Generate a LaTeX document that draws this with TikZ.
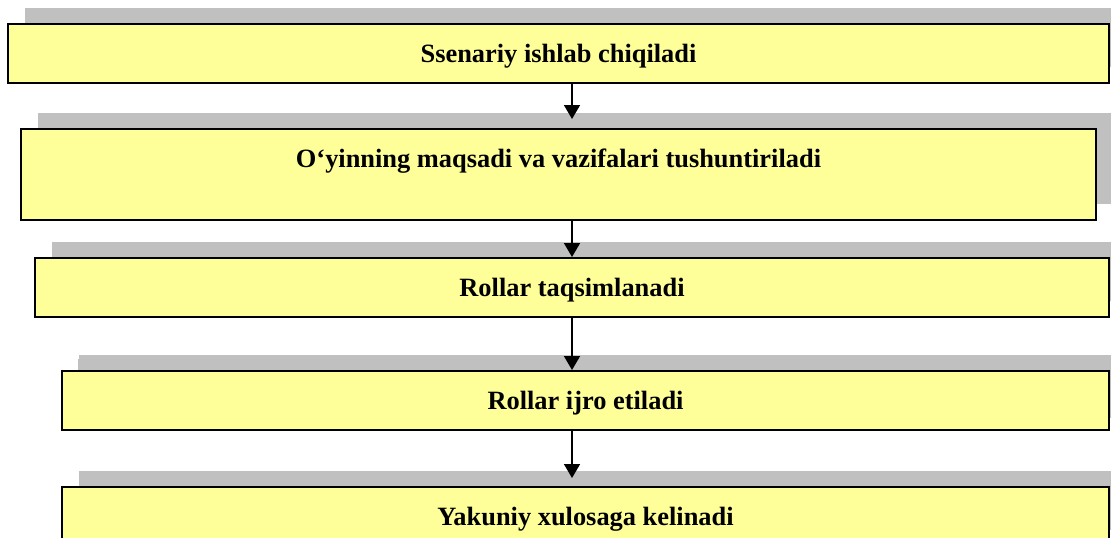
\documentclass[tikz,border=0pt]{standalone}
\usepackage{fontspec}
\setmainfont{Liberation Serif}
\usetikzlibrary{arrows.meta,shadows}

\definecolor{boxyellow}{HTML}{FFFF99}
\definecolor{shadowgray}{HTML}{C0C0C0}

\tikzset{
  stagebox/.style={draw=black, line width=1pt, fill=boxyellow,
    minimum height=29.5pt, text height=11pt, text depth=2pt,
    font=\fontsize{13.2}{15}\selectfont\bfseries,
    general shadow={fill=shadowgray, shadow xshift=8.5pt, shadow yshift=8pt}},
  flow/.style={-{Triangle[width=8pt,length=7pt]}, line width=0.8pt}
}

\begin{document}
\begin{tikzpicture}[x=0.5pt, y=0.5pt]

  \useasboundingbox (0,0) rectangle (1111,537);

  \node[stagebox, minimum width=550.5pt] (s1) at (558.5,483.5) {Ssenariy ishlab chiqiladi};
  \node[stagebox, minimum width=537.5pt, minimum height=45.5pt, text depth=18pt] (s2) at (558.5,362.5) {O‘yinning maqsadi va vazifalari tushuntiriladi};
  \node[stagebox, minimum width=537pt] (s3) at (572,249.5) {Rollar taqsimlanadi};
  \node[stagebox, minimum width=523.5pt, general shadow={fill=shadowgray, shadow xshift=8pt, shadow yshift=6pt}] (s4) at (585.5,136.5) {Rollar ijro etiladi};
  \node[stagebox, minimum width=523.5pt] (s5) at (585.5,20.5) {Yakuniy xulosaga kelinadi};

  \draw[flow, shorten >=4.5pt] (s1.south -| s3) -- (s2.north -| s3);
  \draw[flow] (s2.south -| s3) -- (s3.north);
  \draw[flow] (s3.south) -- (s4.north -| s3);
  \draw[flow, shorten >=4pt] (s4.south -| s3) -- (s5.north -| s3);

\end{tikzpicture}
\end{document}
